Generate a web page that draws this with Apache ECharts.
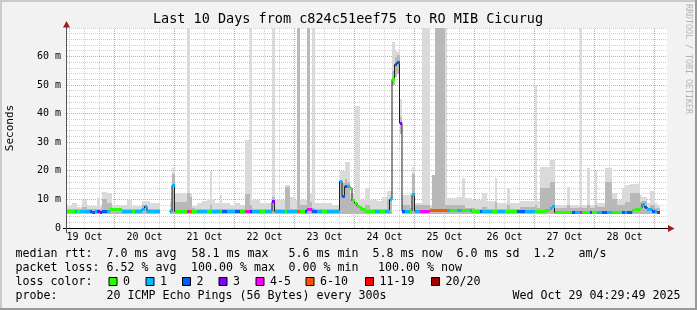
<!DOCTYPE html>
<html><head><meta charset="utf-8">
<script src="https://cdn.jsdelivr.net/npm/echarts@6/dist/echarts.min.js"></script>
<style>html,body{margin:0;padding:0;background:#f2f2f2}#c{width:697px;height:310px}</style>
</head><body><div id="c"></div>
<script>
// ---- data ----
// hourly bins; first bin starts Oct 19 05:00 (x axis = hours since Oct 19 00:00)
const startHour = 5;
const dayLabels = ['19 Oct','20 Oct','21 Oct','22 Oct','23 Oct','24 Oct','25 Oct','26 Oct','27 Oct','28 Oct'];
const yTicks = [0,10,20,30,40,50,60,70];

const median = [
 5.7,5.7,5.8,5.7,5.7,5.8,5.8,5.7,5.7,5.7,5.6,5.7,5.7,5.6,5.7,5.8,5.8,6.4,6.4,
 6.4,6.4,6.4,5.8,5.8,5.8,5.8,5.8,5.8,5.8,5.8,6.6,7.5,5.8,5.8,5.8,5.8,5.8,null,null,null,null,5.8,15.0,
 5.8,5.8,5.8,5.8,5.8,5.8,5.9,5.8,5.8,5.8,5.8,5.8,5.8,5.8,5.8,5.8,5.8,5.8,5.8,5.8,5.8,5.8,5.8,5.8,
 5.8,5.8,5.8,5.8,5.8,5.8,5.8,5.8,5.8,5.8,5.8,5.8,5.8,5.8,5.8,9.3,5.8,5.8,5.8,5.8,5.8,5.8,5.8,5.8,
 5.8,5.8,5.8,5.8,5.8,6.6,6.6,5.8,5.8,5.8,5.8,5.8,5.8,5.8,5.8,5.8,5.8,5.8,16.3,11.0,14.5,14.5,14.0,9.5,
 8.7,7.6,7.2,6.4,5.8,5.8,5.8,5.8,5.8,5.8,5.8,5.8,5.8,5.8,9.9,52.0,57.2,58.1,36.7,5.9,5.9,5.9,5.9,11.6,
 5.9,5.9,5.9,5.9,5.9,5.9,6.0,6.0,6.0,6.0,6.0,6.0,6.0,6.0,6.0,6.0,6.0,6.0,6.0,6.0,6.0,6.0,6.0,5.8,
 5.8,5.8,5.8,5.8,5.8,5.8,5.8,5.8,5.8,5.8,5.8,5.8,5.7,5.7,5.7,5.7,5.7,5.7,5.7,5.7,5.7,5.7,5.7,5.7,
 5.7,5.7,5.7,5.7,6.0,6.3,7.0,7.6,5.5,5.5,5.5,5.5,5.5,5.5,5.5,5.5,5.5,5.5,5.5,5.5,5.5,5.5,5.5,5.6,
 5.6,5.6,5.6,5.6,5.6,5.6,5.6,5.6,5.6,5.6,5.6,5.6,5.6,5.6,5.6,6.0,6.4,6.6,7.0,8.4,7.2,6.5,6.5,5.8,
 5.8,5.6,null,null,null
];
// lost pings out of 20 per bin
const loss = [
 0,0,0,1,0,1,1,1,1,2,2,1,3,3,2,2,1,0,0,
 0,0,0,1,1,1,1,0,1,1,1,1,1,1,1,1,1,1,0,0,0,0,1,1,
 0,0,0,0,0,5,8,0,0,1,1,1,1,0,0,1,1,1,0,2,2,1,1,1,
 2,2,0,0,5,5,3,1,1,1,0,0,1,1,1,3,1,1,1,1,0,1,1,1,
 1,8,0,0,2,5,5,2,2,1,1,0,0,1,1,1,1,1,1,2,2,1,0,0,
 0,0,0,0,0,0,0,0,1,1,0,0,1,1,1,0,2,2,3,2,1,1,0,1,
 1,1,5,5,5,5,8,8,8,8,8,8,8,1,0,0,0,1,1,0,0,0,1,0,
 0,0,2,1,1,1,1,0,0,1,1,1,0,0,0,0,0,2,2,2,1,1,1,1,
 0,0,0,0,0,0,1,1,0,0,0,0,0,0,0,2,1,1,5,0,0,0,2,0,
 0,1,1,2,2,1,1,0,0,0,0,2,1,2,2,0,0,0,0,1,2,1,1,2,
 1,15,0,0,0
];
// smoke: bottom, top of darker band, top of light band (ms)
const smokeLo = [
 4.8,4.8,4.8,4.8,4.8,4.8,4.8,4.8,4.8,4.8,4.8,4.8,4.8,4.8,4.8,4.8,4.8,4.8,4.8,
 4.8,4.8,4.8,4.8,4.8,4.8,4.8,4.8,4.8,4.8,4.8,4.8,4.8,4.8,4.8,4.8,4.8,4.8,null,null,null,null,4.8,4.8,
 4.8,4.8,4.8,4.8,4.8,4.8,4.8,4.8,4.8,4.8,4.8,4.8,4.8,4.8,4.8,4.8,4.8,4.8,4.8,4.8,4.8,4.8,4.8,4.8,
 4.8,4.8,4.8,4.8,4.8,4.8,4.8,4.8,4.8,4.8,4.8,4.8,4.8,4.8,4.8,4.8,4.8,4.8,4.8,4.8,4.8,4.8,4.8,4.8,
 4.8,4.8,4.8,4.8,4.8,4.8,4.8,4.8,4.8,4.8,4.8,4.8,4.8,4.8,4.8,4.8,4.8,4.8,4.8,4.8,4.8,4.8,4.8,4.8,
 4.8,4.8,4.8,4.8,4.8,4.8,4.8,4.8,4.8,4.8,4.8,4.8,4.8,4.8,4.8,50,53,54,33,4.8,4.8,4.8,4.8,4.8,
 4.8,4.8,4.8,4.8,4.8,4.8,4.8,4.8,4.8,4.8,4.8,4.8,4.8,4.8,4.8,4.8,4.8,4.8,4.8,4.8,4.8,4.8,4.8,4.8,
 4.8,4.8,4.8,4.8,4.8,4.8,4.8,4.8,4.8,4.8,4.8,4.8,4.8,4.8,4.8,4.8,4.8,4.8,4.8,4.8,4.8,4.8,4.8,4.8,
 4.8,4.8,4.8,4.8,4.8,4.8,4.8,4.8,4.8,4.8,4.8,4.8,4.8,4.8,4.8,4.8,4.8,4.8,4.8,4.8,4.8,4.8,4.8,4.8,
 4.8,4.8,4.8,4.8,4.8,4.8,4.8,4.8,4.8,4.8,4.8,4.8,4.8,4.8,4.8,4.8,4.8,4.8,4.8,4.8,4.8,4.8,4.8,4.8,
 4.8,4.8,null,null,null
];
const smokeMid = [
 6.6,6.6,6.6,6.6,6.6,6.6,7.5,7.5,6.6,6.6,6.6,6.6,6.6,6.6,10,10,8.7,8.7,6.8,
 6.8,6.8,6.8,6.6,6.6,6.6,6.6,6.6,6.6,6.6,6.6,8.0,8.0,6.6,6.6,6.6,6.6,6.6,null,null,null,null,6.6,19,
 9,9,9,9,9,12.2,11,7,6.6,6.6,6.6,6.6,6.6,6.6,8,6.6,6.6,6.6,6.6,6.6,6.6,6.6,6.6,6.6,
 6.6,6.6,6.6,6.6,12,12,8.1,6.6,6.6,6.6,6.6,6.6,6.6,6.6,6.6,11,6.6,6.6,6.6,6.6,14.5,14.5,6.6,6.6,
 6.6,70,8.1,8.1,8.1,70,9,7,6.6,6.6,6.6,6.6,6.6,6.6,6.6,6.6,6.6,6.6,15.8,15.8,17,16,10,9.5,
 9,8,7.5,7,8,8,6.6,6.6,6.6,6.6,6.6,6.6,6.6,10,11,55,60,60.5,39,8,8,8,7,19,
 8.1,8.1,8.1,8,8,8,7,18.6,70,70,70,70,8,8,8,8,8,8.1,8.1,8,7,7,7,7,
 6.8,6.8,6.8,7.5,7.5,6.8,6.8,6.8,9,6.8,6.8,6.8,6.8,8,6.8,6.8,6.8,6.8,7.5,7.5,7.5,7.5,7.5,7.5,
 8,7,14,14,14,14,16,16,7,7,7,7,7,8,7,7,7,7,7.5,7,7,8,7,7,
 8,7.5,7.5,7.5,16,16,16,10,10,8,8,8,9,9,12.2,12.2,12.2,12.2,9,9.5,9.5,7,8,8,
 7,7,null,null,null
];
const smokeHi = [
 7.6,7.6,8.7,8.7,7.2,7.2,9.9,9.9,7.6,7.6,7.6,7.6,10.5,7.6,12.5,12.5,12.2,12.2,8.1,
 8.1,8.1,8.1,8.1,8.1,9.9,9.9,7.6,7.6,7.6,7.6,9.3,9.3,9.3,8.7,8.7,8.7,8.7,null,null,null,null,9.3,21,
 12.2,12.2,12.2,12.2,12.2,70,12.2,7.6,7.6,8.7,8.7,9.3,9.3,10.1,19.8,10.1,8.7,8.7,11.6,8.7,8.7,8.7,8.1,8.1,
 8.7,8.7,8.1,8.1,30.9,30.9,70,9.9,9.9,9.9,8.7,8.7,8.7,8.7,8.7,70,9.9,9.9,9.9,9.9,15,15,11,11,
 9.9,70,9.9,9.9,9.9,70,12.2,70,8.7,8.7,8.7,8.7,8.7,8.7,8.7,8.1,8.1,8.1,19.8,19.8,23,23,12.2,12.2,
 42.7,42.7,9.9,9.9,14,14,9.9,9.9,9.9,9.3,9.3,11,11,12.8,12.8,65,62,61.5,45,11.6,11.6,11.6,12.2,21.5,
 8.7,8.7,8.7,70,70,70,8.1,18.6,70,70,70,70,70,10.5,10.5,10.5,10.5,11,11,17.5,10.5,10.5,10.5,9.9,
 9.9,9.9,9.9,12.2,12.2,9.3,9.3,9.3,17.5,8.7,8.7,8.7,8.7,14,8.7,8.7,8.7,8.7,9.3,9.3,9.3,9.3,9.3,9.3,
 50,9.3,21.5,21.5,21.5,21.5,23.9,23.9,8.1,8.1,8.1,8.1,8.1,14.5,8.1,8.1,8.1,8.1,70,8.1,8.1,21,8.1,8.1,
 20,8.7,8.7,8.7,21,21,21,12.2,12.2,9.9,9.9,14,15.1,15.1,15.5,15.5,15.5,15.5,11.6,11,11,8.7,12.8,12.8,
 8.7,8.1,null,null,null
];

const lossLabels = ['0','1','2','3','4-5','6-10','11-19','20/20'];
const lossUpper  = [0,1,2,3,5,10,19,20];
const lossColors = ['#26ff00','#00b8ff','#0059ff','#7e00ff','#ff00ff','#ff5500','#ff0000','#a10000'];

const statsRow1 = ['median rtt:','7.0 ms avg','58.1 ms max','5.6 ms min','5.8 ms now','6.0 ms sd','1.2','am/s'];
const statsRow2 = ['packet loss:','6.52 % avg','100.00 % max','0.00 % min','100.00 % now'];
const probeText = ['probe:','20 ICMP Echo Pings (56 Bytes) every 300s'];
const stampText = 'Wed Oct 29 04:29:49 2025';
const titleText = 'Last 10 Days from c824c51eef75 to RO MIB Cicurug';

// ---- layout (pixels) ----
const row1X = [15.5,106.5,191.5,288.5,372.5,456.5,533.5,578.5];
const row2X = [15.5,106.5,191,288.5,378];
const boxX  = [108.5,145.5,182,218.5,255.5,305.5,365,431];
const rowY  = [254,268.3,281.7,296];
const F = '"DejaVu Sans Mono", monospace';
const FS = 11.63;

function lossIdx(l){ for(let k=0;k<lossUpper.length;k++){ if(l<=lossUpper[k]) return k; } return lossUpper.length-1; }

const smokeData=[], medData=[], lineData=[];
median.forEach((m,i)=>{
  const t = startHour + i;
  if (smokeHi[i]!=null) smokeData.push([t, smokeLo[i], smokeMid[i], smokeHi[i]]);
  if (m!=null) medData.push([t, m, loss[i]]);
  lineData.push([t+0.5, m==null?'-':m]);
});
const vGrid=[]; for(let h=6; h<245; h+=6) vGrid.push([h,0]);
const hGrid=[]; for(let v=2; v<=70; v+=2) hGrid.push([5,v]);
const dayNoons = dayLabels.map((d,k)=>12+24*k);

function T(x,y,s,size,extra){
  const st = Object.assign({text:s, font:size+'px '+F, fill:'#000', align:'left', verticalAlign:'middle', textAlign:'left', textVerticalAlign:'middle'}, (extra&&extra.style)||{});
  return {type:'text', x:x, y:y, rotation:(extra&&extra.rotation)||0, silent:true, z:100, style:st};
}

const graphic = [];
graphic.push({type:'rect', shape:{x:0,y:0,width:697,height:2}, style:{fill:'#cbcbcb'}, silent:true});
graphic.push({type:'rect', shape:{x:0,y:0,width:2,height:310}, style:{fill:'#cbcbcb'}, silent:true});
graphic.push({type:'rect', shape:{x:695,y:0,width:2,height:310}, style:{fill:'#999999'}, silent:true});
graphic.push({type:'rect', shape:{x:0,y:308,width:697,height:2}, style:{fill:'#999999'}, silent:true});
graphic.push({type:'line', shape:{x1:63,y1:228.5,x2:668,y2:228.5}, style:{stroke:'#000',lineWidth:1}, z:50, silent:true});
graphic.push({type:'line', shape:{x1:66.5,y1:24,x2:66.5,y2:233}, style:{stroke:'#555',lineWidth:1}, z:50, silent:true});
graphic.push({type:'polygon', shape:{points:[[668,225],[674.5,228.5],[668,232]]}, style:{fill:'#a01c1c'}, z:51, silent:true});
graphic.push({type:'polygon', shape:{points:[[63,27.5],[66.5,21],[70,27.5]]}, style:{fill:'#a01c1c'}, z:51, silent:true});
graphic.push(T(348,19,titleText,13.5,{style:{align:'center',textAlign:'center'}}));
graphic.push(T(10,128,'Seconds',11,{rotation:Math.PI/2,style:{align:'center',textAlign:'center'}}));
graphic.push(T(688,4,'RRDTOOL / TOBI OETIKER',8.3,{rotation:-Math.PI/2,style:{fill:'#b4b4b4'}}));
statsRow1.forEach((s,k)=>graphic.push(T(row1X[k],rowY[0],s,FS)));
statsRow2.forEach((s,k)=>graphic.push(T(row2X[k],rowY[1],s,FS)));
graphic.push(T(15.5,rowY[2],'loss color:',FS));
lossLabels.forEach((s,k)=>{
  graphic.push({type:'rect', shape:{x:boxX[k]+0.5,y:277.5,width:8,height:8}, style:{fill:lossColors[k],stroke:'#000',lineWidth:1}, z:100, silent:true});
  graphic.push(T(boxX[k]+14.5,rowY[2],s,FS));
});
graphic.push(T(15.5,rowY[3],probeText[0],FS));
graphic.push(T(106.5,rowY[3],probeText[1],FS));
graphic.push(T(512.5,rowY[3],stampText,FS));

const chart = echarts.init(document.getElementById('c'), null, {renderer:'canvas', width:697, height:310});
chart.setOption({
  animation:false,
  backgroundColor:'#f2f2f2',
  grid:{left:67, top:28, width:600, height:200, show:true, backgroundColor:'#ffffff', borderWidth:0},
  xAxis:{type:'value', min:5, max:245, axisLine:{show:false}, axisTick:{show:false}, splitLine:{show:false},
    axisLabel:{customValues:dayNoons, formatter:v=>dayLabels[Math.round((v-12)/24)]||'', color:'#000', fontFamily:F, fontSize:10, margin:4.5}},
  yAxis:{type:'value', min:0, max:70, interval:10, axisLine:{show:false}, axisTick:{show:false}, splitLine:{show:false},
    axisLabel:{formatter:v=>v===0?'0':(v>=70?'':v+' m'), color:'#000', fontFamily:F, fontSize:10, margin:6}},
  series:[
    {type:'custom', name:'vgrid', z:1, silent:true, clip:false, data:vGrid, encode:{x:0,y:1},
     renderItem:(p,api)=>{const h=api.value(0); const a=api.coord([h,0]), b=api.coord([h,70]);
       const x=Math.round(a[0]-0.5)+0.5; const major=(h%24===0);
       return {type:'line', shape:{x1:x,y1:a[1],x2:x,y2:b[1]}, style:{stroke:major?'#e99a9a':'#cfcfcf',lineWidth:1,lineDash:[1,1]}};}},
    {type:'custom', name:'hgrid', z:1, silent:true, clip:false, data:hGrid, encode:{x:0,y:1},
     renderItem:(p,api)=>{const v=api.value(1); const a=api.coord([5,v]), b=api.coord([245,v]);
       const y=Math.round(a[1]-0.5)+0.5; const major=(v%10===0 && v<70);
       return {type:'line', shape:{x1:a[0],y1:y,x2:b[0],y2:y}, style:{stroke:major?'#e99a9a':'#cfcfcf',lineWidth:1,lineDash:[1,1]}};}},
    {type:'custom', name:'smoke', z:2, silent:true, clip:true, data:smokeData, encode:{x:0,y:[1,2,3]},
     renderItem:(p,api)=>{const t=api.value(0), lo=api.value(1), mid=api.value(2), hi=api.value(3);
       const a=api.coord([t,lo]), b=api.coord([t+1,mid]), c=api.coord([t+1,hi]);
       const x0=Math.round(a[0]), x1=Math.round(b[0]);
       const yLo=Math.round(a[1]), yMid=Math.round(b[1]), yHi=Math.round(c[1]);
       return {type:'group', children:[
         {type:'rect', shape:{x:x0,y:yHi,width:x1-x0,height:yMid-yHi}, style:{fill:'#dadada'}},
         {type:'rect', shape:{x:x0,y:yMid,width:x1-x0,height:yLo-yMid}, style:{fill:'#b8b8b8'}}
       ]};}},
    {type:'line', name:'median', z:3, silent:true, data:lineData, step:'middle', symbol:'none', connectNulls:false,
     lineStyle:{color:'#202020', width:1}},
    {type:'custom', name:'loss', z:4, silent:true, clip:true, data:medData, encode:{x:0,y:1},
     renderItem:(p,api)=>{const t=api.value(0), m=api.value(1), l=api.value(2);
       const a=api.coord([t,m]), b=api.coord([t+1,m]);
       const x0=Math.round(a[0]), x1=Math.round(b[0]); const y=Math.round(a[1]-1.5);
       return {type:'rect', shape:{x:x0,y:y,width:x1-x0,height:3}, style:{fill:lossColors[lossIdx(l)]}};}}
  ],
  graphic:graphic
});
</script></body></html>
